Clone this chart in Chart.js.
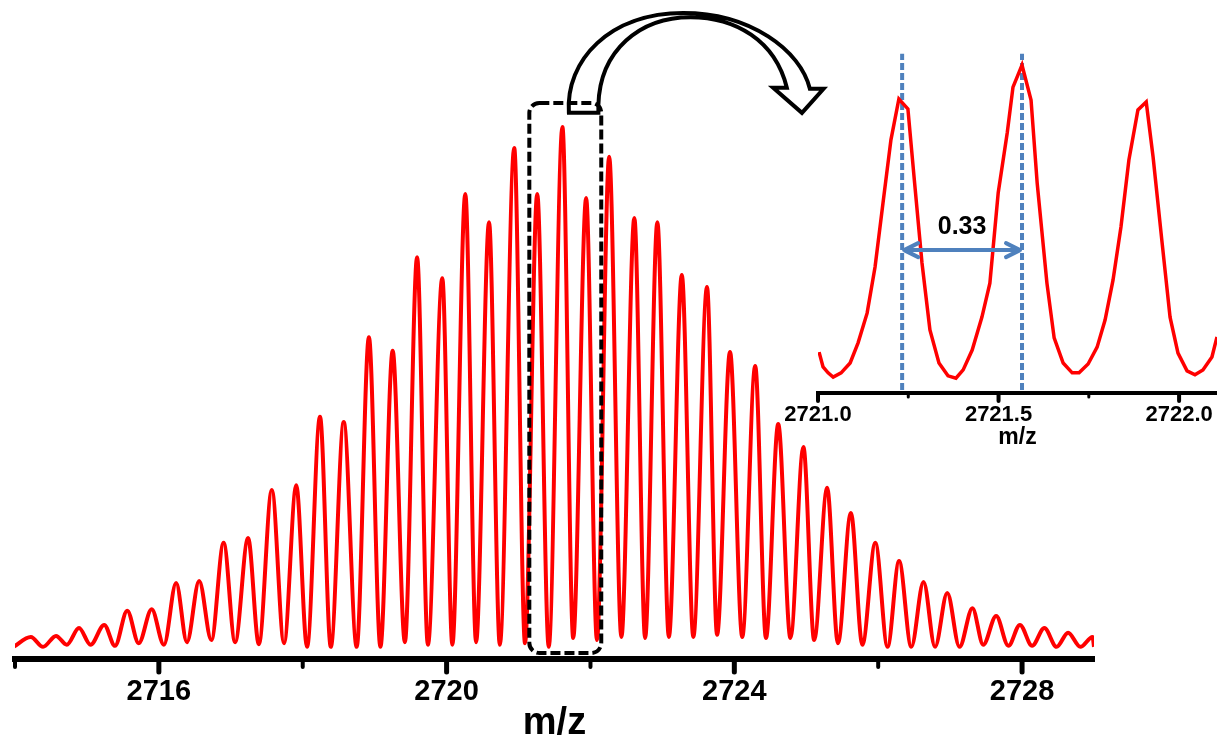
<!DOCTYPE html>
<html>
<head>
<meta charset="utf-8">
<title>m/z</title>
<script src="https://cdn.jsdelivr.net/npm/chart.js@4/dist/chart.umd.min.js"></script>
<style>
  body { margin: 0; background: #fff; }
  .wrap { position: relative; width: 1217px; height: 738px; }
  canvas { position: absolute; left: 0; top: 0; }
</style>
</head>
<body>
<div class="wrap">
  <canvas id="main_chart" width="1217" height="738"></canvas>
  <canvas id="inset_chart" width="1217" height="450"></canvas>
</div>
<script>
// MAIN SPECTRUM: PEAK APEXES AND VALLEYS (RELATIVE INTENSITY, %)
const peak_mz = [2714.22, 2714.57, 2714.89, 2715.24, 2715.56, 2715.90, 2716.24, 2716.56, 2716.90, 2717.24,
  2717.57, 2717.91, 2718.24, 2718.57, 2718.92, 2719.25, 2719.59, 2719.94, 2720.26, 2720.59,
  2720.94, 2721.26, 2721.61, 2721.94, 2722.26, 2722.61, 2722.93, 2723.27, 2723.62, 2723.94,
  2724.29, 2724.61, 2724.96, 2725.29, 2725.62, 2725.96, 2726.29, 2726.63, 2726.96, 2727.31,
  2727.64, 2727.97, 2728.31, 2728.64, 2728.98];
const peak_int = [2.5, 2.7, 4.2, 4.8, 7.5, 7.8, 12.8, 13.2, 20.5, 21.4,
  30.6, 31.5, 44.6, 43.6, 59.8, 57.2, 75.1, 71.1, 87.2, 81.8,
  96.0, 87.2, 100, 86.4, 94.3, 82.6, 81.8, 71.7, 69.4, 57.0,
  54.3, 43.2, 38.8, 31.0, 26.2, 20.5, 17.0, 13.0, 10.9, 8.0,
  6.5, 4.8, 4.2, 3.3, 2.5];
const valley_mz = [2713.98, 2714.39, 2714.72, 2715.05, 2715.39, 2715.72, 2716.07, 2716.39, 2716.73, 2717.06,
  2717.39, 2717.74, 2718.06, 2718.39, 2718.75, 2719.08, 2719.42, 2719.74, 2720.08, 2720.41,
  2720.74, 2721.09, 2721.42, 2721.76, 2722.09, 2722.43, 2722.76, 2723.09, 2723.43, 2723.76,
  2724.11, 2724.44, 2724.78, 2725.11, 2725.44, 2725.78, 2726.13, 2726.46, 2726.79, 2727.13,
  2727.46, 2727.81, 2728.14, 2728.48, 2728.81, 2729.0];
const valley_int = [0.6, 0.6, 1.0, 1.0, 0.8, 1.3, 1.0, 1.5, 1.9, 1.5,
  1.1, 1.3, 0.6, 0.6, 0.6, 0.6, 1.5, 1.0, 1.0, 1.5,
  1.0, 1.3, 0.6, 2.3, 1.9, 2.5, 2.3, 2.5, 2.5, 2.9,
  2.5, 2.3, 2.3, 1.9, 1.3, 1.0, 0.6, 0.6, 0.6, 0.6,
  1.0, 0.8, 0.8, 0.6, 0.6, 0.6];
const main_ticks = [2714, 2716, 2718, 2720, 2722, 2724, 2726, 2728];
const main_labels = [2716, 2720, 2724, 2728];

// INSET: ZOOMED PROFILE 2721.0 - 2722.1
const inset_mz = [2721.003, 2721.014, 2721.028, 2721.042, 2721.064, 2721.089, 2721.111, 2721.136, 2721.158, 2721.180,
  2721.202, 2721.224, 2721.249, 2721.266, 2721.288, 2721.310, 2721.335, 2721.360, 2721.382, 2721.402,
  2721.427, 2721.454, 2721.476, 2721.499, 2721.524, 2721.540, 2721.565, 2721.590, 2721.607, 2721.634,
  2721.654, 2721.679, 2721.704, 2721.723, 2721.748, 2721.773, 2721.795, 2721.817, 2721.839, 2721.861,
  2721.886, 2721.909, 2721.928, 2721.953, 2721.975, 2721.997, 2722.022, 2722.044, 2722.066, 2722.091,
  2722.105];
const inset_int = [12.4, 7.9, 6.1, 4.8, 6.1, 9.1, 15.2, 24.2, 38.2, 57.6,
  76.7, 89.1, 86.1, 65.5, 39.4, 19.1, 9.1, 5.2, 4.5, 7.0,
  13.0, 23.0, 33.3, 60.6, 78.8, 92.7, 99.4, 88.8, 63.6, 33.3,
  16.7, 9.1, 6.1, 6.1, 8.8, 13.9, 22.1, 34.2, 50.3, 70.6,
  85.8, 88.2, 71.5, 45.5, 23.0, 12.1, 6.7, 5.5, 7.0, 10.9,
  17.0];
const inset_ticks = [2721.0, 2721.25, 2721.5, 2721.75, 2722.0];
const inset_labels = [2721.0, 2721.5, 2722.0];

// PEAK SPACING MARKERS
const spacing_mz = [2721.233, 2721.565];
const spacing_span = [0.9, 102.8];
const spacing_level = 43.3;
const spacing_text = "0.33";

// ZOOMED REGION ON MAIN SPECTRUM
const zoom_region_mz = [2721.15, 2722.15];
const zoom_region_int = [-0.57, 104.6];

const blue = "#4f81bd";
Chart.defaults.font.family = "Arial, 'Liberation Sans', sans-serif";
Chart.defaults.color = "#000";

// BUILD POINT LISTS
const main_points = peak_mz
  .map((m, i) => ({ x: m, y: peak_int[i] }))
  .concat(valley_mz.map((m, i) => ({ x: m, y: valley_int[i] })))
  .sort((a, b) => a.x - b.x);
const inset_points = inset_mz.map((m, i) => ({ x: m, y: inset_int[i] }));

// TICK MARKS (MAJOR LONG, MINOR SHORT)
const tick_marks = {
  id: "tick_marks",
  afterDraw(chart, args, opts) {
    const scale = chart.scales.x;
    const c = chart.ctx;
    c.save();
    c.strokeStyle = "#000";
    c.lineCap = "round";
    scale.ticks.forEach((t) => {
      const major = opts.labels.includes(t.value);
      const px = scale.getPixelForValue(t.value);
      c.lineWidth = major ? opts.majorWidth : opts.minorWidth;
      c.beginPath();
      c.moveTo(px, scale.top);
      c.lineTo(px, scale.top + (major ? opts.majorLength : opts.minorLength));
      c.stroke();
    });
    c.restore();
  },
};

// DASHED BOX + CURVED ARROW
const arrow_path = [
  ["M", 2721.70, 102.7],
  ["C", 2721.65, 112.8, 2722.27, 121.8, 2723.29, 121.8],
  ["C", 2724.22, 121.8, 2724.92, 114.7, 2725.05, 107.3],
  ["L", 2725.24, 107.3],
  ["L", 2724.94, 102.7],
  ["L", 2724.54, 107.5],
  ["L", 2724.73, 107.5],
  ["C", 2724.57, 116.6, 2724.01, 121.0, 2723.39, 121.0],
  ["C", 2722.69, 121.0, 2722.13, 114.7, 2722.11, 104.2],
  ["L", 2722.11, 102.7],
  ["Z"],
];

const zoom_marks = {
  id: "zoom_marks",
  afterDatasetsDraw(chart) {
    const { ctx: c, scales: { x, y } } = chart;
    const x1 = x.getPixelForValue(zoom_region_mz[0]);
    const x2 = x.getPixelForValue(zoom_region_mz[1]);
    const y1 = y.getPixelForValue(zoom_region_int[1]);
    const y2 = y.getPixelForValue(zoom_region_int[0]);
    const r = 10;
    c.save();
    c.strokeStyle = "#000";
    c.lineWidth = 4;
    c.setLineDash([10, 4]);
    c.beginPath();
    c.moveTo(x1 + r, y1);
    c.arcTo(x2, y1, x2, y2, r);
    c.arcTo(x2, y2, x1, y2, r);
    c.arcTo(x1, y2, x1, y1, r);
    c.arcTo(x1, y1, x2, y1, r);
    c.closePath();
    c.stroke();

    c.setLineDash([]);
    c.lineWidth = 4;
    c.lineJoin = "miter";
    const px = (v) => x.getPixelForValue(v);
    const py = (v) => y.getPixelForValue(v);
    c.beginPath();
    arrow_path.forEach((s) => {
      if (s[0] == "M") c.moveTo(px(s[1]), py(s[2]));
      else if (s[0] == "L") c.lineTo(px(s[1]), py(s[2]));
      else if (s[0] == "C") c.bezierCurveTo(px(s[1]), py(s[2]), px(s[3]), py(s[4]), px(s[5]), py(s[6]));
      else c.closePath();
    });
    c.stroke();
    c.restore();
  },
};

// DOUBLE ARROW + 0.33 LABEL
const spacing_arrow = {
  id: "spacing_arrow",
  afterDatasetsDraw(chart) {
    const { ctx: c, scales: { x, y } } = chart;
    const x1 = x.getPixelForValue(spacing_mz[0]) + 2;
    const x2 = x.getPixelForValue(spacing_mz[1]) - 2;
    const py = y.getPixelForValue(spacing_level);
    c.save();
    c.strokeStyle = blue;
    c.lineWidth = 4;
    c.lineCap = "round";
    c.lineJoin = "round";
    c.beginPath();
    c.moveTo(x1, py);
    c.lineTo(x2, py);
    c.moveTo(x1 + 14, py - 7);
    c.lineTo(x1, py);
    c.lineTo(x1 + 14, py + 7);
    c.moveTo(x2 - 14, py - 7);
    c.lineTo(x2, py);
    c.lineTo(x2 - 14, py + 7);
    c.stroke();
    c.fillStyle = "#000";
    c.font = "bold 25px Arial, 'Liberation Sans', sans-serif";
    c.textAlign = "center";
    c.textBaseline = "middle";
    c.fillText(spacing_text, (x1 + x2) / 2, py - 23);
    c.restore();
  },
};

// MAIN CHART
new Chart(document.getElementById("main_chart"), {
  type: "line",
  data: {
    datasets: [
      {
        data: main_points,
        borderColor: "#ff0000",
        borderWidth: 4,
        pointRadius: 0,
        fill: false,
        cubicInterpolationMode: "monotone",
      },
    ],
  },
  options: {
    responsive: false,
    animation: false,
    layout: { padding: { left: 15, right: 123, top: 0, bottom: 0 } },
    plugins: {
      legend: { display: false },
      tooltip: { enabled: false },
      tick_marks: { labels: main_labels, majorLength: 13, minorLength: 8, majorWidth: 5, minorWidth: 4 },
    },
    scales: {
      x: {
        type: "linear",
        min: 2714,
        max: 2729,
        afterBuildTicks: (s) => {
          s.ticks = main_ticks.map((v) => ({ value: v }));
        },
        afterFit: (s) => {
          s.height = 79;
        },
        ticks: {
          padding: 3,
          autoSkip: false,
          maxRotation: 0,
          color: "#000",
          font: { size: 29, weight: "bold" },
          callback: (v) => (main_labels.includes(v) ? String(v) : ""),
        },
        grid: { drawOnChartArea: false, tickLength: 13, tickColor: "rgba(0,0,0,0)" },
        border: { color: "#000", width: 6 },
        title: {
          display: true,
          text: "m/z",
          color: "#000",
          font: { size: 38, weight: "bold", lineHeight: 0.75 },
          padding: 0,
        },
      },
      y: { display: false, min: -1.72, max: 124.28 },
    },
  },
  plugins: [tick_marks, zoom_marks],
});

// INSET CHART
new Chart(document.getElementById("inset_chart"), {
  type: "line",
  data: {
    datasets: [
      {
        data: inset_points,
        borderColor: "#ff0000",
        borderWidth: 3.5,
        pointRadius: 0,
        fill: false,
        tension: 0,
      },
      {
        data: spacing_span.map((v) => ({ x: spacing_mz[0], y: v })),
        borderColor: blue,
        borderWidth: 4,
        borderDash: [7, 3],
        pointRadius: 0,
      },
      {
        data: spacing_span.map((v) => ({ x: spacing_mz[1], y: v })),
        borderColor: blue,
        borderWidth: 4,
        borderDash: [7, 3],
        pointRadius: 0,
      },
    ],
  },
  options: {
    responsive: false,
    animation: false,
    layout: { padding: { left: 818, right: 0, top: 50, bottom: 0 } },
    plugins: {
      legend: { display: false },
      tooltip: { enabled: false },
      tick_marks: { labels: inset_labels, majorLength: 8, minorLength: 4, majorWidth: 4, minorWidth: 3 },
    },
    scales: {
      x: {
        type: "linear",
        min: 2721.0,
        max: 2722.105,
        afterBuildTicks: (s) => {
          s.ticks = inset_ticks.map((v) => ({ value: v }));
        },
        afterFit: (s) => {
          s.height = 57;
        },
        ticks: {
          padding: 1,
          autoSkip: false,
          maxRotation: 0,
          color: "#000",
          font: { size: 22, weight: "bold" },
          callback: (v) => (inset_labels.includes(v) ? v.toFixed(1) : ""),
        },
        grid: { drawOnChartArea: false, tickLength: 8, tickColor: "rgba(0,0,0,0)" },
        border: { color: "#000", width: 4 },
        title: {
          display: true,
          text: "m/z",
          color: "#000",
          font: { size: 23, weight: "bold", lineHeight: 1.0 },
          padding: { top: 0, bottom: 1 },
        },
      },
      y: { display: false, min: 0, max: 103.94 },
    },
  },
  plugins: [tick_marks, spacing_arrow],
});
</script>
</body>
</html>
